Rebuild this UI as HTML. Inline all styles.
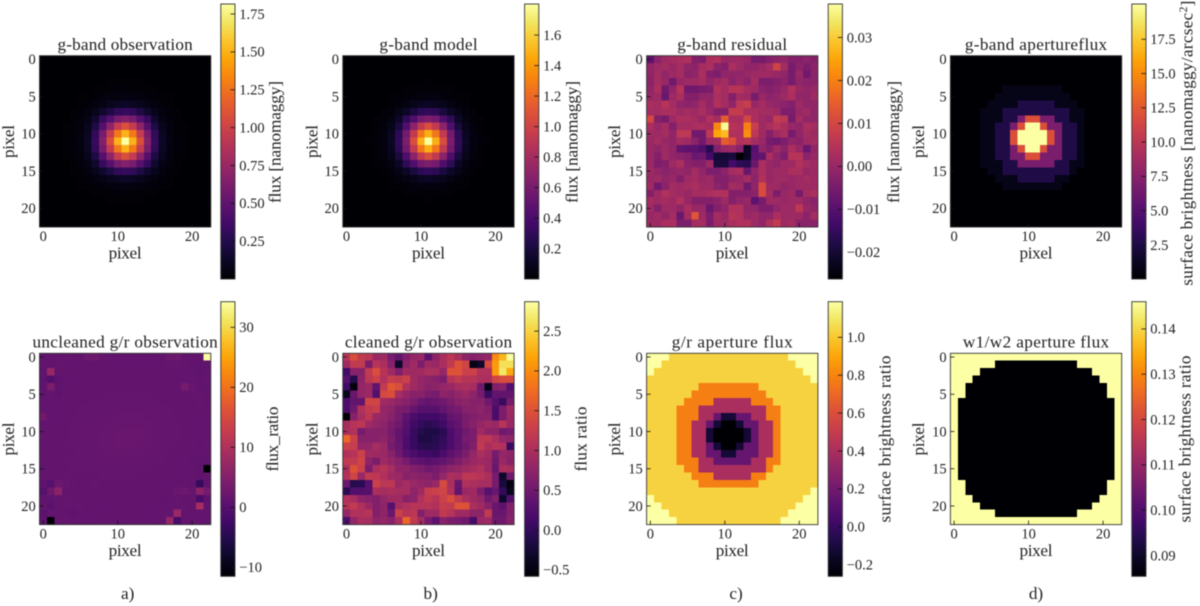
<!DOCTYPE html>
<html lang="en">
<head>
<meta charset="utf-8">
<title>Galaxy image panels</title>
<style>
html,body{margin:0;padding:0;background:#fff;width:1200px;height:606px;overflow:hidden}
#figure{display:block;filter:blur(.5px)}
text{font-family:"Liberation Serif","DejaVu Serif",serif;fill:#222}
.lab{font-size:17.2px}
.tick{font-size:14.5px}
</style>
</head>
<body>
<svg id="figure" xmlns="http://www.w3.org/2000/svg" width="1200" height="606" viewBox="0 0 1200 606">
<defs id="defs"></defs>
<g id="panels"></g>

<text class="lab" x="125.1" y="50" text-anchor="middle" textLength="135.3">g-band observation</text>
<text class="lab" x="428.5" y="50" text-anchor="middle" textLength="98.3">g-band model</text>
<text class="lab" x="732.2" y="50" text-anchor="middle" textLength="110">g-band residual</text>
<text class="lab" x="1036" y="50" text-anchor="middle" textLength="142.3">g-band apertureflux</text>
<text class="lab" x="125.1" y="347.6" text-anchor="middle" textLength="185.3">uncleaned g/r observation</text>
<text class="lab" x="428.5" y="347.6" text-anchor="middle" textLength="167.3">cleaned g/r observation</text>
<text class="lab" x="732.2" y="347.6" text-anchor="middle" textLength="121">g/r aperture flux</text>
<text class="lab" x="1036" y="347.6" text-anchor="middle" textLength="146.3">w1/w2 aperture flux</text>

<text class="lab" x="125.1" y="258.5" text-anchor="middle" textLength="33">pixel</text>
<text class="lab" x="428.5" y="258.5" text-anchor="middle" textLength="33">pixel</text>
<text class="lab" x="732.2" y="258.5" text-anchor="middle" textLength="33">pixel</text>
<text class="lab" x="1036" y="258.5" text-anchor="middle" textLength="33">pixel</text>
<text class="lab" x="125.1" y="556" text-anchor="middle" textLength="33">pixel</text>
<text class="lab" x="428.5" y="556" text-anchor="middle" textLength="33">pixel</text>
<text class="lab" x="732.2" y="556" text-anchor="middle" textLength="33">pixel</text>
<text class="lab" x="1036" y="556" text-anchor="middle" textLength="33">pixel</text>

<text class="lab" transform="translate(14,141.5) rotate(-90)" text-anchor="middle" textLength="33">pixel</text>
<text class="lab" transform="translate(317.3,141.5) rotate(-90)" text-anchor="middle" textLength="33">pixel</text>
<text class="lab" transform="translate(620,141.5) rotate(-90)" text-anchor="middle" textLength="33">pixel</text>
<text class="lab" transform="translate(924,141.5) rotate(-90)" text-anchor="middle" textLength="33">pixel</text>
<text class="lab" transform="translate(14,439) rotate(-90)" text-anchor="middle" textLength="33">pixel</text>
<text class="lab" transform="translate(317.3,439) rotate(-90)" text-anchor="middle" textLength="33">pixel</text>
<text class="lab" transform="translate(620,439) rotate(-90)" text-anchor="middle" textLength="33">pixel</text>
<text class="lab" transform="translate(924,439) rotate(-90)" text-anchor="middle" textLength="33">pixel</text>

<text class="lab" transform="translate(280.7,142) rotate(-90)" text-anchor="middle" textLength="122">flux [nanomaggy]</text>
<text class="lab" transform="translate(577.3,142) rotate(-90)" text-anchor="middle" textLength="122">flux [nanomaggy]</text>
<text class="lab" transform="translate(899,142) rotate(-90)" text-anchor="middle" textLength="122">flux [nanomaggy]</text>
<text class="lab" transform="translate(1192.7,143) rotate(-90)" text-anchor="middle" style="letter-spacing:.3px">surface brightness [nanomaggy/arcsec<tspan dy="-5.5" font-size="11.5">2</tspan><tspan dy="5.5">]</tspan></text>
<text class="lab" transform="translate(278,439) rotate(-90)" text-anchor="middle" textLength="65">flux_ratio</text>
<text class="lab" transform="translate(586.7,439) rotate(-90)" text-anchor="middle" textLength="65">flux ratio</text>
<text class="lab" transform="translate(890.7,439) rotate(-90)" text-anchor="middle" textLength="167">surface brightness ratio</text>
<text class="lab" transform="translate(1190.7,439) rotate(-90)" text-anchor="middle" textLength="167">surface brightness ratio</text>

<text class="lab" x="127.7" y="599" text-anchor="middle">a)</text>
<text class="lab" x="430.7" y="599" text-anchor="middle">b)</text>
<text class="lab" x="736" y="599" text-anchor="middle">c)</text>
<text class="lab" x="1036" y="599" text-anchor="middle">d)</text>
</svg>

<script>
// ---------- shared axis values ----------
const xTickValues = [0, 10, 20];
const yTickValues = [0, 5, 10, 15, 20];

// ---------- panel 1: g-band observation (values in 0.01 nanomaggy) ----------
const observationUnit = 0.01;
const observationRange = [0.001, 1.816];
const observationTicks = [0.25, 0.5, 0.75, 1, 1.25, 1.5, 1.75];
const observationTickLabels = ["0.25", "0.50", "0.75", "1.00", "1.25", "1.50", "1.75"];
const observationValues = [
[0,0,0,0,0,0,0,0,0,0,0,0,0,0,0,0,0,0,0,0,0,0,0],
[0,0,0,0,0,0,0,0,0,0,0,0,0,0,0,0,0,0,0,0,0,0,0],
[0,0,0,0,0,0,0,0,0,0,0,0,0,0,0,0,0,0,0,0,0,0,0],
[0,0,0,0,0,0,0,0,0,1,1,1,1,1,0,0,0,0,0,0,0,0,0],
[0,0,0,0,0,0,0,1,1,1,2,2,2,1,1,1,0,0,0,0,0,0,0],
[0,0,0,0,0,1,1,2,3,4,4,5,4,4,3,2,1,1,0,0,0,0,0],
[0,0,0,0,0,1,2,4,6,9,12,13,12,9,6,4,2,1,0,0,0,0,0],
[0,0,0,0,1,2,4,8,15,22,30,32,30,22,15,8,4,2,1,0,0,0,0],
[0,0,0,0,1,3,6,15,32,45,60,65,60,45,32,15,6,3,1,0,0,0,0],
[0,0,0,1,1,4,9,22,45,70,95,108,95,70,45,22,9,4,1,1,0,0,0],
[0,0,0,1,2,4,12,30,60,95,128,150,128,95,60,30,12,4,2,1,0,0,0],
[0,0,0,1,2,5,13,32,65,108,150,182,150,108,65,32,13,5,2,1,0,0,0],
[0,0,0,1,2,4,12,30,60,95,128,150,128,95,60,30,12,4,2,1,0,0,0],
[0,0,0,1,1,4,9,22,45,70,95,108,95,70,45,22,9,4,1,1,0,0,0],
[0,0,0,0,1,3,6,15,32,45,60,65,60,45,32,15,6,3,1,0,0,0,0],
[0,0,0,0,1,2,4,8,15,22,30,32,30,22,15,8,4,2,1,0,0,0,0],
[0,0,0,0,0,1,2,4,6,9,12,13,12,9,6,4,2,1,0,0,0,0,0],
[0,0,0,0,0,1,1,2,3,4,4,5,4,4,3,2,1,1,0,0,0,0,0],
[0,0,0,0,0,0,0,1,1,1,2,2,2,1,1,1,0,0,0,0,0,0,0],
[0,0,0,0,0,0,0,0,0,1,1,1,1,1,0,0,0,0,0,0,0,0,0],
[0,0,0,0,0,0,0,0,0,0,0,0,0,0,0,0,0,0,0,0,0,0,0],
[0,0,0,0,0,0,0,0,0,0,0,0,0,0,0,0,0,0,0,0,0,0,0],
[0,0,0,0,0,0,0,0,0,0,0,0,0,0,0,0,0,0,0,0,0,0,0]
];

// ---------- panel 2: g-band model (values in 0.01 nanomaggy) ----------
const modelUnit = 0.01;
const modelRange = [0, 1.804];
const modelTicks = [0.2, 0.4, 0.6, 0.8, 1, 1.2, 1.4, 1.6];
const modelTickLabels = ["0.2", "0.4", "0.6", "0.8", "1.0", "1.2", "1.4", "1.6"];
const modelValues = [
[0,0,0,0,0,0,0,0,0,0,0,0,0,0,0,0,0,0,0,0,0,0,0],
[0,0,0,0,0,0,0,0,0,0,0,0,0,0,0,0,0,0,0,0,0,0,0],
[0,0,0,0,0,0,0,0,0,0,0,0,0,0,0,0,0,0,0,0,0,0,0],
[0,0,0,0,0,0,0,0,0,0,0,1,0,0,0,0,0,0,0,0,0,0,0],
[0,0,0,0,0,0,0,0,1,1,1,2,1,1,1,0,0,0,0,0,0,0,0],
[0,0,0,0,0,0,1,1,2,3,4,4,4,3,2,1,1,0,0,0,0,0,0],
[0,0,0,0,0,0,1,3,5,8,11,12,11,8,5,3,1,0,0,0,0,0,0],
[0,0,0,0,0,1,3,7,13,20,28,30,28,20,13,7,3,1,0,0,0,0,0],
[0,0,0,0,1,2,5,13,29,42,58,62,58,42,29,13,5,2,1,0,0,0,0],
[0,0,0,0,1,3,8,20,42,68,93,106,93,68,42,20,8,3,1,0,0,0,0],
[0,0,0,0,1,4,11,28,58,93,126,148,126,93,58,28,11,4,1,0,0,0,0],
[0,0,0,1,2,4,12,30,62,106,148,180,148,106,62,30,12,4,2,1,0,0,0],
[0,0,0,0,1,4,11,28,58,93,126,148,126,93,58,28,11,4,1,0,0,0,0],
[0,0,0,0,1,3,8,20,42,68,93,106,93,68,42,20,8,3,1,0,0,0,0],
[0,0,0,0,1,2,5,13,29,42,58,62,58,42,29,13,5,2,1,0,0,0,0],
[0,0,0,0,0,1,3,7,13,20,28,30,28,20,13,7,3,1,0,0,0,0,0],
[0,0,0,0,0,0,1,3,5,8,11,12,11,8,5,3,1,0,0,0,0,0,0],
[0,0,0,0,0,0,1,1,2,3,4,4,4,3,2,1,1,0,0,0,0,0,0],
[0,0,0,0,0,0,0,0,1,1,1,2,1,1,1,0,0,0,0,0,0,0,0],
[0,0,0,0,0,0,0,0,0,0,0,1,0,0,0,0,0,0,0,0,0,0,0],
[0,0,0,0,0,0,0,0,0,0,0,0,0,0,0,0,0,0,0,0,0,0,0],
[0,0,0,0,0,0,0,0,0,0,0,0,0,0,0,0,0,0,0,0,0,0,0],
[0,0,0,0,0,0,0,0,0,0,0,0,0,0,0,0,0,0,0,0,0,0,0]
];

// ---------- panel 3: g-band residual (values in 0.001 nanomaggy) ----------
const residualUnit = 0.001;
const residualRange = [-0.0262, 0.0378];
const residualTicks = [-0.02, -0.01, 0, 0.01, 0.02, 0.03];
const residualTickLabels = ["\u22120.02", "\u22120.01", "0.00", "0.01", "0.02", "0.03"];
const residualValues = [
[-9,-2,1,2,3,4,-3,-4,3,4,0,1,1,0,-5,-5,-3,-2,-1,-3,-3,-2,-3],
[-1,1,2,0,2,-1,-2,2,3,-2,-3,3,1,-1,-1,0,2,9,2,-5,-2,-4,-2],
[-1,2,-1,1,2,-2,-1,3,-3,-4,-1,-1,-1,0,1,1,1,0,-1,-5,0,-6,-2],
[-2,2,0,-6,0,1,1,2,-1,1,2,-2,0,-2,2,-4,-4,-3,-2,-5,-1,-2,-2],
[-1,3,-6,-1,5,-6,-6,-5,-4,4,2,5,5,2,1,-2,-3,-2,0,4,0,-1,0],
[0,1,-7,1,3,-3,-3,-1,-1,3,2,-3,2,1,-5,0,-2,-1,1,3,-1,-1,1],
[3,2,5,2,-1,-2,-1,2,-1,4,2,-1,6,8,0,2,0,-1,-2,-3,1,-1,-1],
[2,2,3,3,1,2,1,3,0,-3,-3,7,7,3,3,2,2,1,-4,-4,0,1,-1],
[10,-3,-5,1,3,3,2,0,4,2,14,3,3,10,3,1,0,7,6,-5,2,-1,-1],
[3,0,2,-3,2,2,3,3,2,21,37,5,4,20,8,1,3,5,3,0,-1,3,2],
[1,1,2,-1,6,6,-6,-6,6,25,28,4,4,22,6,1,-3,1,3,-5,-1,2,1],
[0,2,0,-1,2,1,-2,-6,1,2,14,12,4,5,2,0,-5,-6,-4,-1,-2,1,2],
[0,-1,1,-1,-8,-9,-9,-11,-17,-3,0,1,-2,-22,-10,-1,-3,1,-2,3,0,-7,-1],
[0,-3,1,-1,-2,-3,-7,-6,-13,-20,-20,-19,-26,-22,-9,-8,3,-1,-4,5,5,-2,0],
[0,-4,-3,1,3,-2,-3,-3,1,-19,-19,-13,-16,-17,-7,3,0,-1,1,1,4,2,1],
[1,-1,-2,-1,0,-1,2,-1,-4,-4,-2,2,3,-7,-1,3,0,1,1,3,3,0,1],
[0,1,-1,0,-3,1,2,0,1,-3,-3,-1,0,2,-2,4,0,1,1,0,1,2,1],
[1,-6,-2,2,1,2,3,1,1,-2,-3,2,1,-6,-1,11,1,1,-1,0,1,1,1],
[-3,1,4,2,1,0,2,2,3,4,4,-3,-3,-3,-2,11,2,-4,0,1,-5,2,3],
[2,1,2,1,4,0,-3,-3,-3,-2,1,-3,-1,0,-9,-5,1,1,0,1,1,-1,-2],
[1,-3,1,1,-1,3,0,0,-7,-3,-1,4,4,-1,-1,-4,-4,-1,1,1,6,0,-1],
[0,1,-1,2,-7,2,13,1,-4,2,0,5,4,0,1,-1,-1,3,1,1,1,-2,2],
[1,1,3,3,-4,-4,2,2,-4,1,1,3,4,4,1,-1,4,7,1,2,-2,-2,-2]
];

// ---------- panel 4: g-band aperture flux (values in 0.1 nanomaggy/arcsec^2) ----------
const apertureUnit = 0.1;
const apertureRange = [0.02, 20.07];
const apertureTicks = [2.5, 5, 7.5, 10, 12.5, 15, 17.5];
const apertureTickLabels = ["2.5", "5.0", "7.5", "10.0", "12.5", "15.0", "17.5"];
const apertureValues = [
[0,0,0,0,0,0,0,0,0,0,0,0,0,0,0,0,0,0,0,0,0,0,0],
[0,0,0,0,0,0,0,0,0,0,0,0,0,0,0,0,0,0,0,0,0,0,0],
[0,0,0,0,0,0,0,0,0,0,0,0,0,0,0,0,0,0,0,0,0,0,0],
[0,0,0,0,0,0,0,0,0,0,0,0,0,0,0,0,0,0,0,0,0,0,0],
[0,0,0,0,0,0,0,8,8,8,8,8,8,8,8,0,0,0,0,0,0,0,0],
[0,0,0,0,0,0,8,8,8,8,8,8,8,8,8,8,0,0,0,0,0,0,0],
[0,0,0,0,0,8,8,8,8,26,26,26,26,26,8,8,8,0,0,0,0,0,0],
[0,0,0,0,8,8,8,26,26,26,26,26,26,26,26,26,8,8,0,0,0,0,0],
[0,0,0,0,8,8,8,26,26,68,120,120,68,68,26,26,8,8,0,0,0,0,0],
[0,0,0,0,8,8,26,26,68,120,201,201,120,68,68,26,26,8,0,0,0,0,0],
[0,0,0,0,8,8,26,26,120,201,201,201,201,120,68,26,26,8,0,0,0,0,0],
[0,0,0,0,8,8,26,26,120,201,201,201,201,120,68,26,26,8,0,0,0,0,0],
[0,0,0,0,8,8,26,26,68,120,201,201,120,68,68,26,26,8,0,0,0,0,0],
[0,0,0,0,8,8,26,26,68,68,120,120,68,68,68,26,26,8,0,0,0,0,0],
[0,0,0,0,8,8,8,26,26,68,68,68,68,68,26,26,8,8,0,0,0,0,0],
[0,0,0,0,0,8,8,26,26,26,26,26,26,26,26,26,8,0,0,0,0,0,0],
[0,0,0,0,0,0,8,8,8,26,26,26,26,26,8,8,0,0,0,0,0,0,0],
[0,0,0,0,0,0,0,8,8,8,8,8,8,8,8,0,0,0,0,0,0,0,0],
[0,0,0,0,0,0,0,0,0,0,0,0,0,0,0,0,0,0,0,0,0,0,0],
[0,0,0,0,0,0,0,0,0,0,0,0,0,0,0,0,0,0,0,0,0,0,0],
[0,0,0,0,0,0,0,0,0,0,0,0,0,0,0,0,0,0,0,0,0,0,0],
[0,0,0,0,0,0,0,0,0,0,0,0,0,0,0,0,0,0,0,0,0,0,0],
[0,0,0,0,0,0,0,0,0,0,0,0,0,0,0,0,0,0,0,0,0,0,0]
];

// ---------- panel 5: uncleaned g/r (values in 0.1 flux ratio) ----------
const uncleanedUnit = 0.1;
const uncleanedRange = [-11.5, 34.27];
const uncleanedTicks = [-10, 0, 10, 20, 30];
const uncleanedTickLabels = ["\u221210", "0", "10", "20", "30"];
const uncleanedValues = [
[13,13,14,16,15,15,25,25,16,15,14,14,14,14,14,14,15,25,25,14,14,13,340],
[14,13,16,14,14,14,15,15,15,14,14,14,14,14,14,15,15,16,16,15,13,12,13],
[12,70,14,15,15,14,15,15,15,15,15,15,15,15,15,15,15,15,15,14,14,11,13],
[9,-5,10,13,14,14,15,15,15,15,15,15,15,15,15,15,15,15,14,14,14,13,14],
[12,40,13,15,15,15,15,15,15,15,15,15,15,15,15,15,15,15,15,35,18,12,13],
[13,14,11,14,15,15,15,15,15,16,16,16,16,16,16,15,15,15,15,14,17,15,13],
[14,14,14,15,15,15,15,16,16,16,16,16,16,16,16,16,15,15,15,15,13,16,14],
[15,14,15,15,15,16,16,16,16,17,17,17,17,17,17,16,16,16,15,15,15,15,14],
[30,14,13,15,15,16,16,16,17,17,18,18,18,18,17,17,16,16,15,15,15,14,15],
[14,15,15,15,16,16,16,17,17,18,18,19,19,19,18,17,16,16,16,15,14,15,14],
[15,15,15,15,16,16,17,17,18,19,20,20,20,20,18,17,17,16,16,15,15,14,15],
[16,15,15,15,16,16,17,17,18,19,20,21,21,20,19,17,17,16,16,15,15,13,14],
[14,15,15,16,16,16,16,17,18,19,20,20,20,19,18,17,16,16,15,15,15,12,14],
[15,15,15,15,15,16,16,17,17,18,18,19,18,18,17,17,16,15,15,15,15,14,15],
[15,15,15,16,16,16,16,16,17,17,17,17,17,17,16,16,16,15,15,14,13,13,13],
[14,15,15,15,16,16,16,16,16,16,16,16,16,16,16,15,15,15,14,14,14,13,-115],
[15,14,15,16,15,15,15,15,16,16,16,16,16,15,15,15,15,15,14,14,15,13,15],
[13,0,25,18,15,13,15,16,15,15,15,15,15,15,15,15,15,14,15,15,13,-35,13],
[0,25,60,15,15,15,15,15,15,15,15,15,15,15,15,15,15,14,20,25,16,60,35],
[13,13,15,16,15,15,15,15,15,15,15,15,15,15,15,15,13,14,16,14,15,-15,10],
[15,6,15,14,15,16,15,14,14,15,15,15,15,15,15,14,14,15,15,16,15,90,15],
[8,14,15,12,10,15,14,15,16,15,15,15,15,15,14,14,15,16,75,15,14,14,15],
[10,-115,14,16,14,14,16,14,15,15,15,14,15,15,15,14,15,70,-15,15,15,14,13]
];

// ---------- panel 6: cleaned g/r (values in 0.01 flux ratio) ----------
const cleanedUnit = 0.01;
const cleanedRange = [-0.58, 2.87];
const cleanedTicks = [-0.5, 0, 0.5, 1, 1.5, 2, 2.5];
const cleanedTickLabels = ["\u22120.5", "0.0", "0.5", "1.0", "1.5", "2.0", "2.5"];
const cleanedValues = [
[110,145,120,115,85,90,55,40,65,80,85,35,75,100,115,100,75,70,75,80,200,230,285],
[90,120,120,60,110,100,70,-30,75,90,60,90,85,100,120,150,135,-45,-30,140,210,260,260],
[10,70,70,120,145,110,90,65,90,90,90,100,100,80,150,150,130,130,105,105,210,265,220],
[30,-10,75,115,130,105,125,120,130,90,80,75,70,60,110,120,110,110,100,100,135,145,145],
[10,-50,80,85,40,120,155,145,105,90,80,70,75,80,85,95,100,95,50,-45,65,70,25],
[-40,45,80,85,25,140,145,95,80,70,70,60,55,75,70,80,85,75,55,5,40,40,40],
[20,40,40,135,135,90,85,75,70,60,45,40,45,50,60,70,75,70,70,50,30,5,55],
[20,50,105,120,125,80,75,60,55,40,30,30,30,40,50,55,70,70,75,65,20,60,90],
[-58,70,95,115,85,80,70,55,35,20,10,10,10,20,40,45,60,65,70,70,20,60,85],
[95,110,115,90,80,75,60,50,30,10,0,-5,0,10,30,40,60,70,80,90,85,110,85],
[100,105,55,70,70,70,55,40,25,5,-10,-15,-15,-5,20,35,50,60,90,75,75,50,55],
[170,130,70,70,70,75,60,40,20,5,-15,-15,-10,0,20,35,55,60,115,115,100,80,75],
[130,125,80,80,95,85,55,45,20,5,-5,-10,-5,5,20,35,50,65,120,100,110,105,5],
[105,110,130,90,90,85,70,50,30,20,10,10,5,20,35,45,60,80,100,90,55,80,75],
[120,120,135,75,60,90,80,70,55,40,35,30,35,40,50,60,75,85,90,85,50,85,70],
[100,150,130,60,100,110,95,75,75,65,60,50,55,65,75,80,90,95,105,85,45,100,95],
[105,135,85,120,115,105,90,85,70,75,70,70,60,80,100,95,115,115,110,100,55,-30,50],
[45,-10,-5,30,130,115,115,85,95,85,80,75,85,140,100,45,105,100,95,95,55,-20,-50],
[-5,25,25,30,100,95,100,95,95,75,90,125,130,135,105,40,85,90,60,30,45,0,-40],
[105,95,75,70,65,80,90,90,70,75,105,120,110,130,145,120,100,90,80,50,65,-30,25],
[110,120,105,85,65,75,30,95,105,110,110,110,105,125,120,150,150,100,90,70,45,35,65],
[80,105,105,110,65,75,45,130,110,115,65,90,90,120,110,90,90,75,75,120,45,45,65],
[20,80,100,95,75,80,70,100,170,120,95,55,35,70,60,55,50,15,85,90,50,50,70]
];

// ---------- panel 7: g/r aperture flux (values in 0.01 surface brightness ratio) ----------
const grApertureUnit = 0.01;
const grApertureRange = [-0.261, 1.188];
const grApertureTicks = [-0.2, 0, 0.2, 0.4, 0.6, 0.8, 1];
const grApertureTickLabels = ["\u22120.2", "0.0", "0.2", "0.4", "0.6", "0.8", "1.0"];
const grApertureValues = [
[119,119,119,103,103,103,103,103,103,103,103,103,103,103,103,103,103,103,103,119,119,119,119],
[119,119,103,103,103,103,103,103,103,103,103,103,103,103,103,103,103,103,103,103,119,119,119],
[119,103,103,103,103,103,103,103,103,103,103,103,103,103,103,103,103,103,103,103,103,119,119],
[103,103,103,103,103,103,103,103,103,103,103,103,103,103,103,103,103,103,103,103,103,103,119],
[103,103,103,103,103,103,103,78,78,78,78,78,78,78,78,103,103,103,103,103,103,103,103],
[103,103,103,103,103,103,78,78,78,78,78,78,78,78,78,78,103,103,103,103,103,103,103],
[103,103,103,103,103,78,78,78,78,40,40,40,40,40,78,78,78,103,103,103,103,103,103],
[103,103,103,103,78,78,78,40,40,40,40,40,40,40,40,40,78,78,103,103,103,103,103],
[103,103,103,103,78,78,78,40,40,16,-12,-12,16,16,40,40,78,78,103,103,103,103,103],
[103,103,103,103,78,78,40,40,16,-12,-26,-26,-12,16,16,40,40,78,103,103,103,103,103],
[103,103,103,103,78,78,40,40,-12,-26,-26,-26,-26,-12,16,40,40,78,103,103,103,103,103],
[103,103,103,103,78,78,40,40,-12,-26,-26,-26,-26,-12,16,40,40,78,103,103,103,103,103],
[103,103,103,103,78,78,40,40,16,-12,-26,-26,-12,16,16,40,40,78,103,103,103,103,103],
[103,103,103,103,78,78,40,40,16,16,-12,-12,16,16,16,40,40,78,103,103,103,103,103],
[103,103,103,103,78,78,78,40,40,16,16,16,16,16,40,40,78,78,103,103,103,103,103],
[103,103,103,103,103,78,78,40,40,40,40,40,40,40,40,40,78,103,103,103,103,103,103],
[103,103,103,103,103,103,78,78,78,40,40,40,40,40,78,78,103,103,103,103,103,103,103],
[103,103,103,103,103,103,103,78,78,78,78,78,78,78,78,103,103,103,103,103,103,103,103],
[103,103,103,103,103,103,103,103,103,103,103,103,103,103,103,103,103,103,103,103,103,103,119],
[119,103,103,103,103,103,103,103,103,103,103,103,103,103,103,103,103,103,103,103,103,119,119],
[119,119,103,103,103,103,103,103,103,103,103,103,103,103,103,103,103,103,103,103,119,119,119],
[119,119,119,103,103,103,103,103,103,103,103,103,103,103,103,103,103,103,103,119,119,119,119],
[119,119,119,119,103,103,103,103,103,103,103,103,103,103,103,103,103,103,119,119,119,119,119]
];

// ---------- panel 8: w1/w2 aperture flux (values in 0.001 surface brightness ratio) ----------
const wiseUnit = 0.001;
const wiseRange = [0.0854, 0.146];
const wiseTicks = [0.09, 0.1, 0.11, 0.12, 0.13, 0.14];
const wiseTickLabels = ["0.09", "0.10", "0.11", "0.12", "0.13", "0.14"];
const wiseValues = [
[146,146,146,146,146,146,146,146,146,146,146,146,146,146,146,146,146,146,146,146,146,146,146],
[146,146,146,146,146,146,85,85,85,85,85,85,85,85,85,85,85,146,146,146,146,146,146],
[146,146,146,146,85,85,85,85,85,85,85,85,85,85,85,85,85,85,85,146,146,146,146],
[146,146,146,85,85,85,85,85,85,85,85,85,85,85,85,85,85,85,85,85,146,146,146],
[146,146,85,85,85,85,85,85,85,85,85,85,85,85,85,85,85,85,85,85,85,146,146],
[146,146,85,85,85,85,85,85,85,85,85,85,85,85,85,85,85,85,85,85,85,146,146],
[146,85,85,85,85,85,85,85,85,85,85,85,85,85,85,85,85,85,85,85,85,85,146],
[146,85,85,85,85,85,85,85,85,85,85,85,85,85,85,85,85,85,85,85,85,85,146],
[146,85,85,85,85,85,85,85,85,85,85,85,85,85,85,85,85,85,85,85,85,85,146],
[146,85,85,85,85,85,85,85,85,85,85,85,85,85,85,85,85,85,85,85,85,85,146],
[146,85,85,85,85,85,85,85,85,85,85,85,85,85,85,85,85,85,85,85,85,85,146],
[146,85,85,85,85,85,85,85,85,85,85,85,85,85,85,85,85,85,85,85,85,85,146],
[146,85,85,85,85,85,85,85,85,85,85,85,85,85,85,85,85,85,85,85,85,85,146],
[146,85,85,85,85,85,85,85,85,85,85,85,85,85,85,85,85,85,85,85,85,85,146],
[146,85,85,85,85,85,85,85,85,85,85,85,85,85,85,85,85,85,85,85,85,85,146],
[146,85,85,85,85,85,85,85,85,85,85,85,85,85,85,85,85,85,85,85,85,85,146],
[146,85,85,85,85,85,85,85,85,85,85,85,85,85,85,85,85,85,85,85,85,85,146],
[146,146,85,85,85,85,85,85,85,85,85,85,85,85,85,85,85,85,85,85,85,146,146],
[146,146,85,85,85,85,85,85,85,85,85,85,85,85,85,85,85,85,85,85,85,146,146],
[146,146,146,85,85,85,85,85,85,85,85,85,85,85,85,85,85,85,85,85,146,146,146],
[146,146,146,146,85,85,85,85,85,85,85,85,85,85,85,85,85,85,85,146,146,146,146],
[146,146,146,146,146,146,85,85,85,85,85,85,85,85,85,85,85,146,146,146,146,146,146],
[146,146,146,146,146,146,146,146,146,146,146,146,146,146,146,146,146,146,146,146,146,146,146]
];

// ---------- colormap ----------
const infernoStops = ["#000004","#0B0724","#210C4A","#420A68","#5C126E","#781C6D","#932667","#AE305C","#C73E4C","#DC5039","#ED6925","#F8850F","#FCA50A","#FAC62D","#F2E661","#FCFFA4"];

function hexToRgb(hex) {
  return [parseInt(hex.slice(1, 3), 16), parseInt(hex.slice(3, 5), 16), parseInt(hex.slice(5, 7), 16)];
}
function inferno(t) {
  const clamped = Math.max(0, Math.min(1, t));
  const pos = clamped * (infernoStops.length - 1);
  const i = Math.min(Math.floor(pos), infernoStops.length - 2);
  const f = pos - i;
  const a = hexToRgb(infernoStops[i]);
  const b = hexToRgb(infernoStops[i + 1]);
  return "rgb(" + a.map(function (v, k) { return Math.round(v + (b[k] - v) * f); }).join(",") + ")";
}

// ---------- layout ----------
const SVG_NS = "http://www.w3.org/2000/svg";
const AXIS_SIZE = 171.3;
const GRID_SIZE = 23;
const BAR_WIDTH = 14.2;
const rowGeometry = [
  { axisTop: 55.7, barTop: 4, barBottom: 279 },
  { axisTop: 353.3, barTop: 301.7, barBottom: 576.3 }
];
const columnGeometry = [
  { axisLeft: 39.5, barLeft: 220.8 },
  { axisLeft: 342.8, barLeft: 524.6 },
  { axisLeft: 646.6, barLeft: 828.2 },
  { axisLeft: 950.4, barLeft: 1131.8 }
];

function el(tag, attrs, parent) {
  const node = document.createElementNS(SVG_NS, tag);
  Object.keys(attrs).forEach(function (k) { node.setAttribute(k, attrs[k]); });
  parent.appendChild(node);
  return node;
}

function drawPanel(slug, rowIdx, colIdx, values, unit, range, ticks, tickLabels) {
  const root = document.getElementById("panels");
  const rowGeo = rowGeometry[rowIdx];
  const colGeo = columnGeometry[colIdx];
  const left = colGeo.axisLeft;
  const top = rowGeo.axisTop;
  const cell = AXIS_SIZE / GRID_SIZE;

  // axis functions
  const xOf = function (col) { return left + (col + 0.5) * cell; };
  const yOf = function (row) { return top + (row + 0.5) * cell; };
  const colorOf = function (v) { return inferno((v - range[0]) / (range[1] - range[0])); };
  const barY = function (v) {
    return rowGeo.barBottom - (v - range[0]) / (range[1] - range[0]) * (rowGeo.barBottom - rowGeo.barTop);
  };

  const g = el("g", {}, root);
  
  

  values.forEach(function (rowValues, r) {
    rowValues.forEach(function (v, c) {
      const rect = el("rect", {
        x: xOf(c - 0.5), y: yOf(r - 0.5),
        width: cell + 0.3, height: cell + 0.3,
        fill: colorOf(v * unit), "shape-rendering": "crispEdges"
      }, g);
      
      
    });
  });

  const frame = el("rect", {
    x: left, y: top, width: AXIS_SIZE, height: AXIS_SIZE,
    fill: "none", stroke: "#333", "stroke-width": 0.9
  }, g);
  
  

  xTickValues.forEach(function (tv) {
    const x = xOf(tv);
    const mark = el("line", {
      x1: x, x2: x, y1: top + AXIS_SIZE, y2: top + AXIS_SIZE - 4,
      stroke: "#111", "stroke-width": 0.8
    }, g);
    
    
    const label = el("text", { x: x, y: top + AXIS_SIZE + 14, "text-anchor": "middle", "class": "tick" }, g);
    
    
    label.textContent = String(tv);
  });

  yTickValues.forEach(function (tv) {
    const y = yOf(tv);
    const mark = el("line", {
      x1: left, x2: left + 4, y1: y, y2: y,
      stroke: "#111", "stroke-width": 0.8
    }, g);
    
    
    const label = el("text", { x: left - 3.8, y: y + 4.8, "text-anchor": "end", "class": "tick" }, g);
    
    
    label.textContent = String(tv);
  });

  // colorbar
  const defs = document.getElementById("defs");
  const grad = el("linearGradient", { id: slug + "-gradient", x1: 0, y1: 1, x2: 0, y2: 0 }, defs);
  infernoStops.forEach(function (color, i) {
    el("stop", { offset: i / (infernoStops.length - 1), "stop-color": color }, grad);
  });
  const bar = el("rect", {
    x: colGeo.barLeft, y: rowGeo.barTop, width: BAR_WIDTH,
    height: rowGeo.barBottom - rowGeo.barTop,
    fill: "url(#" + slug + "-gradient)", stroke: "#333", "stroke-width": 0.9
  }, g);
  
  

  ticks.forEach(function (tv, i) {
    const y = barY(tv);
    const right = colGeo.barLeft + BAR_WIDTH;
    const mark = el("line", {
      x1: right - 4.5, x2: right, y1: y, y2: y,
      stroke: "#111", "stroke-width": 0.8
    }, g);
    
    
    const label = el("text", { x: right + 4.3, y: y + 4.8, "class": "tick" }, g);
    
    
    label.textContent = tickLabels[i];
  });
}

drawPanel("g-band-observation", 0, 0, observationValues, observationUnit, observationRange, observationTicks, observationTickLabels);
drawPanel("g-band-model", 0, 1, modelValues, modelUnit, modelRange, modelTicks, modelTickLabels);
drawPanel("g-band-residual", 0, 2, residualValues, residualUnit, residualRange, residualTicks, residualTickLabels);
drawPanel("g-band-aperture", 0, 3, apertureValues, apertureUnit, apertureRange, apertureTicks, apertureTickLabels);
drawPanel("uncleaned-gr", 1, 0, uncleanedValues, uncleanedUnit, uncleanedRange, uncleanedTicks, uncleanedTickLabels);
drawPanel("cleaned-gr", 1, 1, cleanedValues, cleanedUnit, cleanedRange, cleanedTicks, cleanedTickLabels);
drawPanel("gr-aperture", 1, 2, grApertureValues, grApertureUnit, grApertureRange, grApertureTicks, grApertureTickLabels);
drawPanel("w1w2-aperture", 1, 3, wiseValues, wiseUnit, wiseRange, wiseTicks, wiseTickLabels);
</script>
</body>
</html>
